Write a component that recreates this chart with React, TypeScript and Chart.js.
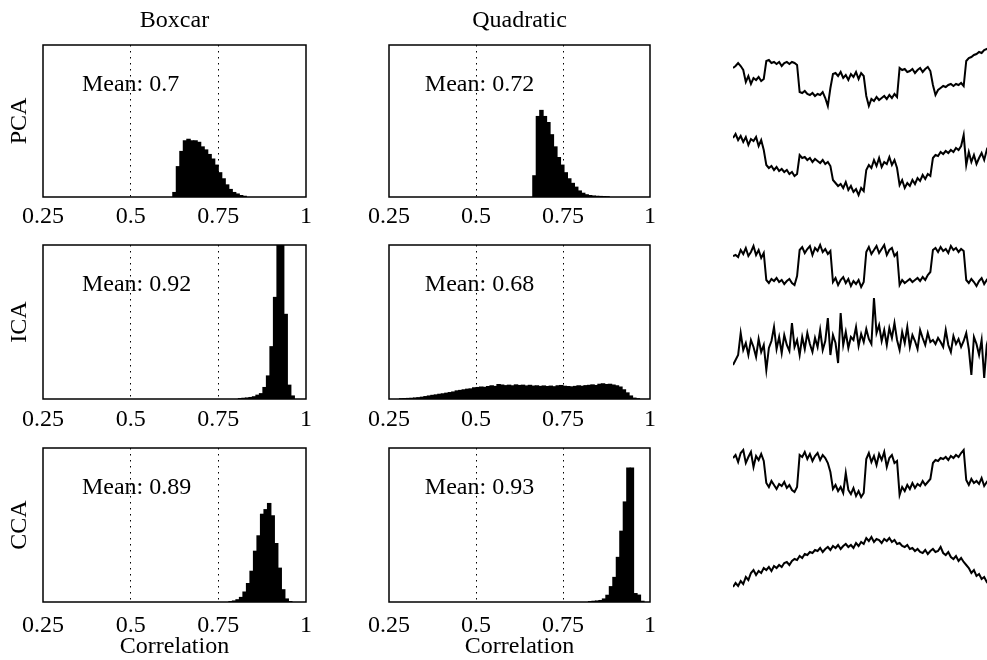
import React, { useEffect, useRef } from 'react';
import { Chart, registerables } from 'chart.js';

Chart.register(...registerables);

const FONT = '"Liberation Serif", "Times New Roman", "DejaVu Serif", serif';

// ---------- labels ----------
const colTitles = ['Boxcar', 'Quadratic'];
const rowLabels = ['PCA', 'ICA', 'CCA'];
const xTickValues = [0.25, 0.5, 0.75, 1];
const xTickLabels = ['0.25', '0.5', '0.75', '1'];
const dottedGridValues = [0.5, 0.75];
const xAxisTitle = 'Correlation';
const binWidth = 0.01;

// ---------- histogram data (relative height, % of panel) ----------
const pcaBoxcarStart = 0.62;
const pcaBoxcarCounts = [3, 20, 30, 37, 38, 37, 37, 36, 33, 31, 28, 25, 21, 16, 12, 8, 5, 3, 2, 1, 0.5];
const pcaBoxcarMean = 'Mean: 0.7';

const pcaQuadStart = 0.663;
const pcaQuadCounts = [14, 53, 57, 53, 49, 41, 33, 26, 21, 16, 12, 9, 6.5, 4, 2.5, 1.5, 1, 0.7, 0.5, 0.4, 0.3, 0.2];
const pcaQuadMean = 'Mean: 0.72';

const icaBoxcarStart = 0.807;
const icaBoxcarCounts = [0.3, 0.5, 0.7, 1, 1.5, 2.5, 3.5, 7.5, 15, 34, 66, 130, 130, 55, 9, 2];
const icaBoxcarMean = 'Mean: 0.92';

const icaQuadStart = 0.28;
const icaQuadCounts = [
  0.2, 0.3, 0.4, 0.5, 0.7, 0.9, 1.2, 1.6, 2.0, 2.4,
  2.7, 3.1, 3.4, 3.8, 4.2, 4.6, 5.3, 5.6, 6.0, 6.4,
  6.6, 7.3, 7.5, 7.8, 7.6, 8.1, 8.6, 8.2, 9.4, 9.1,
  8.7, 9.0, 8.6, 9.2, 8.8, 9.0, 8.5, 8.9, 8.4, 8.6,
  8.2, 8.5, 8.1, 8.4, 8.0, 8.6, 8.8, 8.3, 8.1, 7.9,
  8.2, 8.6, 8.3, 8.7, 8.9, 9.2, 8.8, 9.6, 9.9, 9.4,
  9.6, 9.1, 8.6, 7.8, 6.0, 4.0, 2.0, 0.6, 0.2,
];
const icaQuadMean = 'Mean: 0.68';

const ccaBoxcarStart = 0.78;
const ccaBoxcarCounts = [0.3, 0.7, 1.5, 3, 6.5, 12, 20, 33, 43, 57, 60, 64, 56, 38, 22, 8, 2, 0.3];
const ccaBoxcarMean = 'Mean: 0.89';

const ccaQuadStart = 0.823;
const ccaQuadCounts = [0.3, 0.5, 0.7, 1, 2, 4.4, 10, 16, 29, 46, 65, 87, 87, 5.5, 4.5, 0.5];
const ccaQuadMean = 'Mean: 0.93';

// ---------- recovered signal traces (amplitude) ----------
const tracePcaBoxcar = [
  42, 44, 47, 44, 40, 28, 34, 26, 32, 30, 33, 29, 31,
  49, 50, 47, 48, 46, 48, 44, 47, 48, 46, 48, 47, 45,
  18, 17, 19, 16, 15, 17, 14, 16, 15, 18, 12, 4, 22,
  36, 37, 34, 38, 32, 35, 30, 36, 33, 38, 31, 37, 34,
  14, 4, 11, 9, 13, 10, 12, 14, 11, 15, 12, 16, 13,
  42, 40, 41, 38, 39, 41, 37, 40, 42, 38, 41, 43, 39,
  25, 15, 20, 22, 24, 23, 25, 26, 24, 26, 25, 27, 24,
  49, 52, 53, 55, 56, 58, 57, 60, 61, 62, 63, 64, 65,
];
const tracePcaQuad = [
  62, 66, 60, 64, 58, 63, 55, 61, 59, 63, 54, 60, 50,
  35, 32, 34, 30, 33, 29, 31, 28, 30, 26, 28, 24, 26,
  45, 42, 43, 40, 42, 38, 41, 39, 37, 40, 36, 38, 34,
  20, 17, 14, 16, 12, 18, 10, 14, 8, 11, 5, 12, 9,
  30, 35, 32, 40, 34, 42, 33, 38, 36, 43, 35, 40, 32,
  15, 20, 12, 17, 14, 20, 16, 22, 19, 25, 21, 26, 24,
  42, 45, 44, 48, 46, 49, 47, 50, 48, 52, 50, 54, 65,
  35, 48, 38, 45, 36, 42, 47, 40, 50, 44, 48, 45, 50,
];
const traceIcaBoxcar = [
  36, 37, 35, 42, 38, 44, 36, 40, 46, 37, 42, 34, 39,
  12, 9, 13, 11, 14, 10, 12, 8, 11, 13, 9, 7, 16,
  42, 45, 39, 43, 46, 37, 44, 41, 47, 40, 43, 38, 41,
  10, 14, 7, 12, 15, 9, 13, 6, 11, 8, 12, 5, 10,
  40, 45, 38, 42, 46, 39, 43, 47, 37, 42, 44, 36, 39,
  7, 12, 9, 11, 13, 10, 12, 14, 11, 15, 12, 17, 20,
  42, 44, 40, 45, 41, 43, 39, 46, 42, 44, 40, 43, 41,
  12, 9, 13, 10, 6, 11, 14, 8, 12, 9, 13, 10, 12,
];
const traceIcaQuad = [
  20, 25, 30, 52, 35, 42, 30, 45, 38, 28, 46, 33, 40,
  15, 37, 44, 58, 36, 48, 32, 50, 40, 34, 62, 38, 45,
  30, 48, 36, 52, 41, 33, 47, 38, 55, 35, 44, 67, 30,
  50, 42, 22, 72, 40, 53, 37, 48, 45, 58, 39, 51, 43,
  56, 46, 41, 87, 52, 60, 44, 55, 40, 57, 47, 62, 45,
  35, 53, 42, 58, 38, 50, 44, 36, 55, 47, 40, 52, 43,
  45, 41, 47, 43, 38, 55, 40, 33, 49, 41, 46, 38, 44,
  52, 36, 10, 48, 41, 30, 45, 7, 40, 50, 35, 46, 40,
];
const traceCcaBoxcar = [
  47, 50, 43, 52, 55, 42, 48, 53, 38, 49, 45, 51, 44,
  22, 18, 24, 20, 16, 21, 19, 23, 17, 20, 15, 13, 18,
  50, 48, 53, 46, 51, 44, 49, 52, 45, 50, 47, 42, 33,
  16, 20, 14, 18, 12, 32, 15, 11, 17, 9, 14, 8, 12,
  46, 52, 43, 49, 40, 51, 45, 53, 38, 47, 50, 42, 44,
  10, 18, 14, 20, 16, 22, 17, 21, 19, 24, 20, 23, 26,
  42, 45, 44, 47, 46, 48, 45, 49, 47, 50, 48, 52, 55,
  25, 20, 26, 22, 24, 21, 27, 19, 23, 26, 22, 25, 24,
];
const traceCcaQuad = [
  8, 12, 9, 14, 11, 18, 15, 22, 25, 20, 24, 22, 27,
  25, 28, 24, 29, 27, 30, 28, 32, 33, 30, 34, 36, 35,
  39, 37, 41, 40, 43, 42, 45, 44, 47, 43, 46, 48, 45,
  49, 47, 50, 46, 49, 51, 48, 50, 47, 52, 49, 53, 51,
  57, 54, 58, 53, 56, 55, 52, 56, 54, 57, 53, 55, 51,
  52, 49, 48, 50, 46, 47, 44, 46, 43, 42, 45, 41, 44,
  46, 43, 44, 48, 42, 40, 43, 38, 36, 39, 34, 37, 33,
  30, 27, 22, 25, 19, 21, 16, 18, 13, 10, 8, 10, 6,
];

// ---------- layout ----------
const colLeft = [43, 389];
const colRight = [306, 650];
const rowTop = [45, 245, 448];
const rowBottom = [197, 399, 602];
const tickPad = [5, 6, 9];
const meanTextX = [0.361, 0.353];
const meanTextY = 74;

const traceLeft = 733;
const traceWidth = 264;
const traceBoxes = [
  { top: 45, bottom: 110 },
  { top: 128, bottom: 200 },
  { top: 240, bottom: 292 },
  { top: 290, bottom: 385 },
  { top: 440, bottom: 505 },
  { top: 525, bottom: 595 },
];

const panels = [
  { row: 0, col: 0, start: pcaBoxcarStart, counts: pcaBoxcarCounts, mean: pcaBoxcarMean },
  { row: 0, col: 1, start: pcaQuadStart, counts: pcaQuadCounts, mean: pcaQuadMean },
  { row: 1, col: 0, start: icaBoxcarStart, counts: icaBoxcarCounts, mean: icaBoxcarMean },
  { row: 1, col: 1, start: icaQuadStart, counts: icaQuadCounts, mean: icaQuadMean },
  { row: 2, col: 0, start: ccaBoxcarStart, counts: ccaBoxcarCounts, mean: ccaBoxcarMean },
  { row: 2, col: 1, start: ccaQuadStart, counts: ccaQuadCounts, mean: ccaQuadMean },
];

const traces = [tracePcaBoxcar, tracePcaQuad, traceIcaBoxcar, traceIcaQuad, traceCcaBoxcar, traceCcaQuad];

const frameAndMean = {
  id: 'frameAndMean',
  afterDatasetsDraw(chart: any, _args: any, opts: any) {
    const { ctx, chartArea: a, scales } = chart;
    ctx.save();
    ctx.font = `24px ${FONT}`;
    ctx.fillStyle = '#000';
    ctx.textBaseline = 'middle';
    ctx.textAlign = 'left';
    ctx.fillText(opts.text, scales.x.getPixelForValue(opts.x), scales.y.getPixelForValue(opts.y));
    ctx.strokeStyle = '#000';
    ctx.lineWidth = 1.5;
    ctx.strokeRect(a.left, a.top, a.right - a.left, a.bottom - a.top);
    ctx.restore();
  },
};

function histConfig(p: any) {
  const isLeft = p.col === 0;
  const isTop = p.row === 0;
  const isBottom = p.row === 2;
  const axisH = isBottom ? 60 : 40;
  const data = p.counts.map((c: number, i: number) => ({
    x: Number((p.start + i * binWidth + binWidth / 2).toFixed(4)),
    y: c,
  }));
  return {
    type: 'bar',
    data: {
      datasets: [
        {
          data,
          backgroundColor: '#000',
          borderWidth: 0,
          barPercentage: 1,
          categoryPercentage: 1,
          inflateAmount: 0.5,
        },
      ],
    },
    plugins: [frameAndMean],
    options: {
      responsive: false,
      maintainAspectRatio: false,
      animation: false,
      devicePixelRatio: 1,
      events: [],
      layout: { padding: { left: isLeft ? 0 : 40, right: 20, top: isTop ? 0 : 8, bottom: 0 } },
      plugins: {
        legend: { display: false },
        tooltip: { enabled: false },
        title: {
          display: isTop,
          text: colTitles[p.col],
          color: '#000',
          fullSize: false,
          font: { family: FONT, size: 24, weight: 'normal' },
          padding: { top: 6, bottom: 10.2 },
        },
        frameAndMean: { text: p.mean, x: meanTextX[p.col], y: meanTextY },
      },
      scales: {
        x: {
          type: 'linear',
          min: 0.25,
          max: 1,
          offset: false,
          afterBuildTicks: (s: any) => {
            s.ticks = xTickValues.map((v) => ({ value: v }));
          },
          afterFit: (s: any) => {
            s.height = axisH;
          },
          ticks: {
            autoSkip: false,
            maxRotation: 0,
            padding: tickPad[p.row],
            color: '#000',
            font: { family: FONT, size: 24 },
            callback: (v: any) => {
              const k = xTickValues.indexOf(Number(v));
              return k >= 0 ? xTickLabels[k] : '';
            },
          },
          grid: {
            offset: false,
            drawTicks: false,
            lineWidth: 1,
            color: (c: any) =>
              c.tick && dottedGridValues.includes(c.tick.value) ? '#000' : 'rgba(0,0,0,0)',
          },
          border: { display: false, dash: [1.5, 4.5] },
          title: {
            display: isBottom,
            text: xAxisTitle,
            color: '#000',
            font: { family: FONT, size: 24 },
            padding: { top: 0, bottom: 1 },
          },
        },
        y: {
          display: isLeft,
          min: 0,
          max: 100,
          ticks: { display: false },
          grid: { display: false },
          border: { display: false },
          afterFit: (s: any) => {
            s.width = isLeft ? 43 : 0;
          },
          title: {
            display: isLeft,
            text: rowLabels[p.row],
            color: '#000',
            font: { family: FONT, size: 24 },
            padding: { top: 5, bottom: 0 },
          },
        },
      },
    },
  };
}

function traceConfig(values: number[], range: number) {
  return {
    type: 'line',
    data: {
      labels: values.map((_, i) => i),
      datasets: [
        {
          data: values,
          borderColor: '#000',
          borderWidth: 2,
          pointRadius: 0,
          tension: 0,
          clip: false,
        },
      ],
    },
    options: {
      responsive: false,
      maintainAspectRatio: false,
      animation: false,
      devicePixelRatio: 1,
      events: [],
      layout: { padding: { left: 0, right: 0, top: 3, bottom: 3 } },
      plugins: { legend: { display: false }, tooltip: { enabled: false } },
      scales: {
        x: { display: false, offset: false },
        y: { display: false, min: 0, max: range },
      },
    },
  };
}

function ChartBox(props: { left: number; top: number; width: number; height: number; make: () => any }) {
  const ref = useRef<HTMLCanvasElement>(null);
  useEffect(() => {
    const chart = new Chart(ref.current as HTMLCanvasElement, props.make());
    return () => chart.destroy();
  }, []);
  return (
    <canvas
      ref={ref}
      width={props.width}
      height={props.height}
      style={{ position: 'absolute', left: props.left, top: props.top, width: props.width, height: props.height }}
    />
  );
}

export default function App() {
  return (
    <div
      style={{
        position: 'absolute',
        left: 0,
        top: 0,
        width: 987,
        height: 660,
        overflow: 'hidden',
        background: '#fff',
      }}
    >
      {panels.map((p, i) => {
        const isLeft = p.col === 0;
        const isTop = p.row === 0;
        const axisH = p.row === 2 ? 60 : 40;
        const left = isLeft ? colLeft[0] - 43 : colLeft[1] - 40;
        const top = isTop ? 0 : rowTop[p.row] - 8;
        const width = colRight[p.col] + 20 - left;
        const height = rowBottom[p.row] + axisH - top;
        return <ChartBox key={'h' + i} left={left} top={top} width={width} height={height} make={() => histConfig(p)} />;
      })}
      {traces.map((t, i) => {
        const b = traceBoxes[i];
        const range = b.bottom - b.top;
        return (
          <ChartBox
            key={'t' + i}
            left={traceLeft}
            top={b.top - 3}
            width={traceWidth}
            height={range + 6}
            make={() => traceConfig(t, range)}
          />
        );
      })}
    </div>
  );
}
